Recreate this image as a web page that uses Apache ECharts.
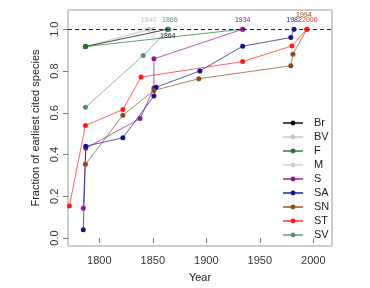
<!DOCTYPE html>
<html>
<head>
<meta charset="utf-8">
<script src="https://cdn.jsdelivr.net/npm/echarts@6/dist/echarts.min.js"></script>
<style>
  html, body { margin: 0; padding: 0; background: #fff; }
  #chart { width: 370px; height: 288px; }
</style>
</head>
<body>
<div id="chart"></div>
<script>
// series names, in legend order
const seriesNames = ['Br', 'BV', 'F', 'M', 'S', 'SA', 'SN', 'ST', 'SV']

// years / fractions
const brYears = [1787, 1864]
const brValues = [0.917, 1.0]
const bvYears = [1787, 1846]
const bvValues = [0.917, 1.0]
const fYears = [1787, 1934]
const fValues = [0.917, 1.0]
const mYears = [1787, 1850]
const mValues = [0.917, 1.0]
const sYears = [1785, 1787.3, 1838, 1851, 1851, 1934]
const sValues = [0.143, 0.43, 0.572, 0.718, 0.858, 1.0]
const saYears = [1785, 1787.3, 1822, 1851, 1853, 1894, 1934, 1979, 1982]
const saValues = [0.04, 0.44, 0.48, 0.68, 0.722, 0.80, 0.919, 0.96, 1.0]
const snYears = [1787, 1822, 1851, 1893, 1979, 1981, 1994]
const snValues = [0.353, 0.588, 0.707, 0.763, 0.825, 0.88, 1.0]
const stYears = [1772, 1787, 1822, 1839, 1934, 1980, 1994]
const stValues = [0.154, 0.539, 0.615, 0.771, 0.845, 0.92, 1.0]
const svYears = [1787, 1841, 1865]
const svValues = [0.626, 0.874, 1.0]

// text printed next to the last point of each series
const endLabels = ['1864', '1840', '', '1850', '1934', '1982', '1994', '2000', '1866']

// tick labels
const xTicks = [1800, 1850, 1900, 1950, 2000]
const yTicks = [0, 0.2, 0.4, 0.6, 0.8, 1.0]

const allYears = [brYears, bvYears, fYears, mYears, sYears, saYears, snYears, stYears, svYears]
const allValues = [brValues, bvValues, fValues, mValues, sValues, saValues, snValues, stValues, svValues]

const colors = ['#000000', '#c4c4c4', '#1b7a2a', '#cdcdcd', '#8e1a8e', '#12128c', '#8b4a1c', '#ff1c1c', '#5b8f84']
const labelColors = ['#222222', '#c4c4c4', '#1b7a2a', '#dedede', '#8e1a8e', '#2a2a9a', '#8b4a1c', '#ff2a2a', '#5b8f84']
const seriesZ = [2, 1, 2, 1, 3, 3, 3, 3, 3]
const labelPos = [
  { position: 'bottom', distance: 1, offset: [0, 0] },
  { position: 'top', distance: 3, offset: [0, 0] },
  { position: 'top', distance: 3, offset: [0, 0] },
  { position: 'bottom', distance: 1, offset: [0, 0] },
  { position: 'top', distance: 3, offset: [0, 0] },
  { position: 'top', distance: 3, offset: [0, 0] },
  { position: 'top', distance: 3, offset: [-3, -5] },
  { position: 'top', distance: 3, offset: [3, 0] },
  { position: 'top', distance: 3, offset: [1, 0] }
]

const font = 'Liberation Sans, Arial, Helvetica, sans-serif'

let series = seriesNames.map((name, i) => {
  let ys = allYears[i]
  let vs = allValues[i]
  let data = ys.map((y, k) => {
    let item = { value: [y, vs[k]] }
    if (k === ys.length - 1 && endLabels[i]) {
      item.label = {
        show: true,
        formatter: endLabels[i],
        position: labelPos[i].position,
        distance: labelPos[i].distance,
        offset: labelPos[i].offset,
        fontSize: 7,
        fontFamily: font,
        color: labelColors[i]
      }
    }
    return item
  })
  return {
    name: name,
    type: 'line',
    z: seriesZ[i],
    data: data,
    symbol: 'circle',
    symbolSize: 5,
    color: colors[i],
    lineStyle: { width: 1, opacity: 0.7 },
    itemStyle: { color: colors[i] },
    emphasis: { disabled: true },
    animation: false
  }
})

// dashed reference line at 1.0
series[0].markLine = {
  silent: true,
  symbol: 'none',
  label: { show: false },
  lineStyle: { color: '#222', type: [4, 3], width: 1 },
  data: [{ yAxis: 1.0 }],
  animation: false
}

let option = {
  backgroundColor: '#fff',
  grid: {
    left: 68,
    top: 10,
    width: 264,
    height: 237,
    show: true,
    borderColor: '#999',
    borderWidth: 1
  },
  legend: {
    data: seriesNames,
    orient: 'vertical',
    left: 282,
    top: 117,
    padding: 0,
    itemWidth: 20,
    itemHeight: 6,
    itemGap: 2,
    textStyle: {
      fontSize: 11,
      lineHeight: 12,
      fontFamily: font,
      color: '#222',
      padding: [0, 0, 0, 6]
    }
  },
  xAxis: {
    type: 'value',
    min: 1770.7,
    max: 2017.5,
    name: 'Year',
    nameLocation: 'middle',
    nameGap: 26,
    nameTextStyle: { fontSize: 11, fontFamily: font, color: '#222' },
    axisLine: { show: false },
    axisTick: {
      show: true,
      length: 5,
      customValues: xTicks,
      lineStyle: { color: '#777' }
    },
    axisLabel: {
      customValues: xTicks,
      margin: 9,
      fontSize: 11,
      fontFamily: font,
      color: '#333',
      formatter: v => String(v)
    },
    splitLine: { show: false }
  },
  yAxis: {
    type: 'value',
    min: -0.038,
    max: 1.092,
    name: 'Fraction of earliest cited species',
    nameLocation: 'middle',
    nameGap: 23,
    nameTextStyle: { fontSize: 11, fontFamily: font, color: '#222' },
    axisLine: { show: false },
    axisTick: {
      show: true,
      length: 5,
      customValues: yTicks,
      lineStyle: { color: '#777' }
    },
    axisLabel: {
      customValues: yTicks,
      rotate: 90,
      margin: 8,
      fontSize: 11,
      fontFamily: font,
      color: '#333',
      formatter: v => v.toFixed(1)
    },
    splitLine: { show: false }
  },
  series: series
}

let chart = echarts.init(document.getElementById('chart'), null, { renderer: 'canvas' })
chart.setOption(option)
</script>
</body>
</html>
